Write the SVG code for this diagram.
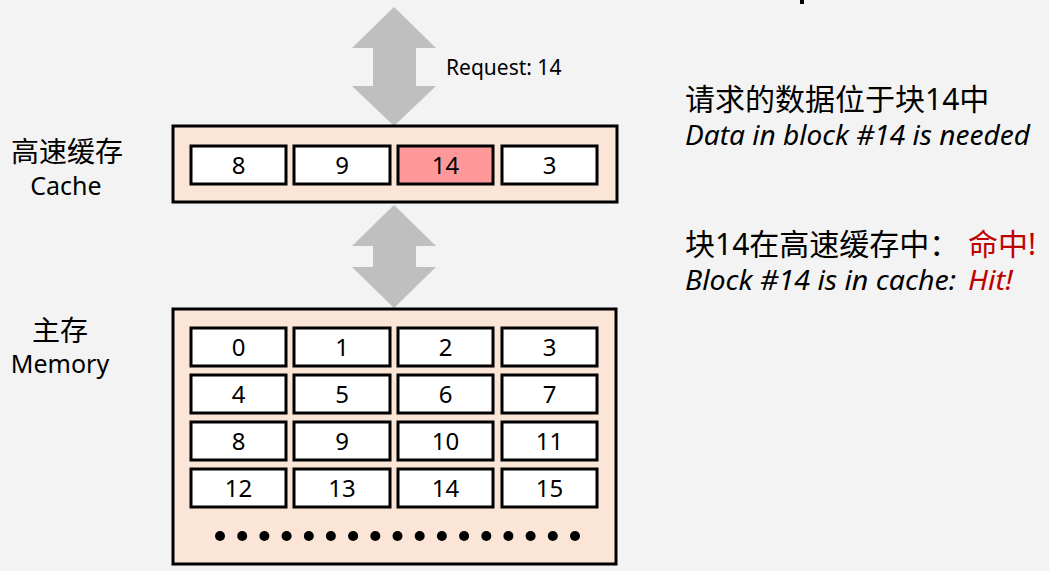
<svg xmlns="http://www.w3.org/2000/svg" width="1049" height="571" viewBox="0 0 1049 571">
<style>
.t{font-family:"Noto Sans","Noto Sans CJK SC",sans-serif;fill:#000}
.num{font-size:24px;text-anchor:middle}
.cell{fill:#fff;stroke:#000;stroke-width:3}
.box{fill:#FBE5D6;stroke:#000;stroke-width:3}
.arr{fill:#BFBFBF}
.red{fill:#C00000}
.it{font-style:italic}
</style>
<rect width="1049" height="571" fill="#F3F3F3"/>
<rect x="800" y="0" width="4" height="4" fill="#000"/>
<g id="connectors">
<polygon class="arr" points="394,7 436,48 416,48 416,86 436,86 394,126 352,86 373,86 373,48 352,48"/>
<polygon class="arr" points="394,205 436,246 416,246 416,267 436,267 394,308 352,267 373,267 373,246 352,246"/>
<text class="t" x="446" y="75" font-size="21">Request: 14</text>
</g>
<g id="cache">
<rect class="box" x="173" y="126" width="444" height="76"/>
<rect class="cell" x="191" y="146" width="95" height="38"/>
<rect class="cell" x="294" y="146" width="96" height="38"/>
<rect class="cell" x="398" y="146" width="95" height="38" style="fill:#FF9999"/>
<rect class="cell" x="502" y="146" width="95" height="38"/>
<text class="t num" x="238.5" y="174">8</text>
<text class="t num" x="342" y="174">9</text>
<text class="t num" x="445.5" y="174">14</text>
<text class="t num" x="549.5" y="174">3</text>
</g>
<g id="cache-label">
<text class="t" x="67" y="162" font-size="28" text-anchor="middle">高速缓存</text>
<text class="t" x="66" y="195" font-size="25" text-anchor="middle">Cache</text>
</g>
<g id="memory">
<rect class="box" x="173" y="309" width="443" height="255"/>
<g>
<rect class="cell" x="191" y="328" width="95" height="38"/>
<rect class="cell" x="294" y="328" width="96" height="38"/>
<rect class="cell" x="398" y="328" width="95" height="38"/>
<rect class="cell" x="502" y="328" width="95" height="38"/>
<rect class="cell" x="191" y="375" width="95" height="38"/>
<rect class="cell" x="294" y="375" width="96" height="38"/>
<rect class="cell" x="398" y="375" width="95" height="38"/>
<rect class="cell" x="502" y="375" width="95" height="38"/>
<rect class="cell" x="191" y="422" width="95" height="38"/>
<rect class="cell" x="294" y="422" width="96" height="38"/>
<rect class="cell" x="398" y="422" width="95" height="38"/>
<rect class="cell" x="502" y="422" width="95" height="38"/>
<rect class="cell" x="191" y="469" width="95" height="38"/>
<rect class="cell" x="294" y="469" width="96" height="38"/>
<rect class="cell" x="398" y="469" width="95" height="38"/>
<rect class="cell" x="502" y="469" width="95" height="38"/>
</g>
<g>
<text class="t num" x="238.5" y="356">0</text>
<text class="t num" x="342" y="356">1</text>
<text class="t num" x="445.5" y="356">2</text>
<text class="t num" x="549.5" y="356">3</text>
<text class="t num" x="238.5" y="403">4</text>
<text class="t num" x="342" y="403">5</text>
<text class="t num" x="445.5" y="403">6</text>
<text class="t num" x="549.5" y="403">7</text>
<text class="t num" x="238.5" y="450">8</text>
<text class="t num" x="342" y="450">9</text>
<text class="t num" x="445.5" y="450">10</text>
<text class="t num" x="549.5" y="450">11</text>
<text class="t num" x="238.5" y="497">12</text>
<text class="t num" x="342" y="497">13</text>
<text class="t num" x="445.5" y="497">14</text>
<text class="t num" x="549.5" y="497">15</text>
</g>
<g fill="#000">
<circle cx="220" cy="536" r="5"/><circle cx="242.2" cy="536" r="5"/><circle cx="264.4" cy="536" r="5"/><circle cx="286.6" cy="536" r="5"/><circle cx="308.8" cy="536" r="5"/><circle cx="330.9" cy="536" r="5"/><circle cx="353.1" cy="536" r="5"/><circle cx="375.3" cy="536" r="5"/><circle cx="397.5" cy="536" r="5"/><circle cx="419.7" cy="536" r="5"/><circle cx="441.9" cy="536" r="5"/><circle cx="464.1" cy="536" r="5"/><circle cx="486.3" cy="536" r="5"/><circle cx="508.4" cy="536" r="5"/><circle cx="530.6" cy="536" r="5"/><circle cx="552.8" cy="536" r="5"/><circle cx="575" cy="536" r="5"/>
</g>
</g>
<g id="memory-label">
<text class="t" x="60" y="341" font-size="28" text-anchor="middle">主存</text>
<text class="t" x="60" y="373" font-size="25" text-anchor="middle">Memory</text>
</g>
<g id="notes">
<text class="t" x="685" y="110" font-size="30">请求的数据位于块14中</text>
<text class="t it" x="685" y="145" font-size="27" textLength="345" lengthAdjust="spacingAndGlyphs">Data in block #14 is needed</text>
<text class="t" x="685" y="255" font-size="30">块14在高速缓存中：</text>
<text class="t red" x="968" y="255" font-size="30">命中!</text>
<text class="t it" x="685" y="290" font-size="27" textLength="271" lengthAdjust="spacingAndGlyphs">Block #14 is in cache:</text>
<text class="t it red" x="968" y="290" font-size="27" textLength="45" lengthAdjust="spacingAndGlyphs">Hit!</text>
</g>
</svg>
